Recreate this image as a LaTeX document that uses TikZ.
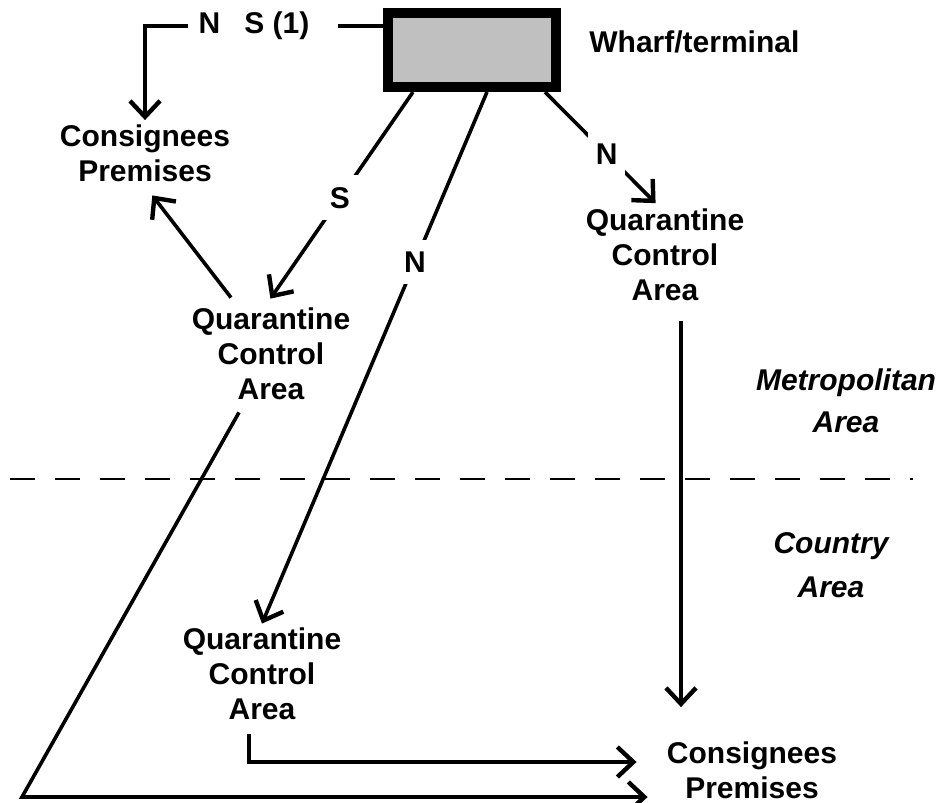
\documentclass[tikz,border=0pt]{standalone}
\usepackage{fontspec}
\setmainfont{Liberation Sans}
\usetikzlibrary{arrows.meta}
\definecolor{wharfgray}{RGB}{192,192,192}

\begin{document}
\begin{tikzpicture}[x=0.5pt,y=-0.5pt,
  every node/.style={font=\fontsize{15}{17.5}\selectfont\bfseries, align=center, inner sep=2pt},
  area/.style={font=\fontsize{15}{21}\selectfont\bfseries\itshape},
  flow/.style={line width=1.8pt, -{Straight Barb[length=8pt,width=15pt,line width=2.2pt]}},
  gap/.style={fill=white, inner ysep=6pt, inner xsep=4pt}]

\useasboundingbox (0,0) rectangle (948,803);

%\draw [help lines] (0,0) grid (948,803);
\node[draw, line width=5pt, fill=wharfgray, minimum width=84pt, minimum height=37pt, inner sep=0pt] (W0) at (472,50) {};
\node[anchor=west] (W1) at (585,42) {Wharf/terminal};;
\node (N0) at (254,26) {N\hspace{12pt}S (1)};

\node (C1) at (145,153) {Consignees\\Premises};
\node (Q1) at (271,354) {Quarantine\\Control\\Area};;
\node (Q2) at (665,255) {Quarantine\\Control\\Area};
\node (Q3) at (262,674) {Quarantine\\Control\\Area};
\node (C2) at (752,770) {Consignees\\Premises};;

\node[area] (A1) at (846,401) {Metropolitan\\Area};
\node[area] (A2) at (831,565) {Country\\[1pt]Area};

\path[flow]
([xshift=15pt]W0.south west) edge[shorten >=3pt] node[gap,pos=0.5] {S} ([xshift=-2pt]Q1.north)
([xshift=52pt]W0.south west) edge node[gap,pos=0.32] {N} (Q3.north)
([xshift=-8pt]W0.south east) edge[shorten >=1pt] node[gap,pos=0.55] {N} ([xshift=-4pt]Q2.north)
([xshift=-20pt,yshift=3pt]Q1.north) edge[shorten >=6pt] (C1.south);
%(Q1) edge (C1)

\draw[line width=1.8pt, shorten >=12pt] ([yshift=12pt]W0.west) -- (N0.east);
\draw[flow, shorten <=3pt] (N0.west) -| (C1.north);

\coordinate (drop) at ([xshift=8pt]Q2.south);
\draw[flow, shorten <=8pt, shorten >=15pt] (drop) -- (drop |- C2.north);
\draw[flow, shorten <=5pt, shorten >=13pt] ([xshift=-6.5pt]Q3.south) |- ([yshift=4pt]C2.west);

\coordinate (corner) at (22,797);
\draw[flow, shorten >=7.5pt] ([xshift=-16pt,yshift=-4pt]Q1.south) -- (corner) -- (corner -| C2.west);

% metropolitan / country boundary
\draw[line width=1.2pt, dash pattern=on 12.5pt off 10pt] (10,479) -- (913,479);
\end{tikzpicture}
\end{document}
